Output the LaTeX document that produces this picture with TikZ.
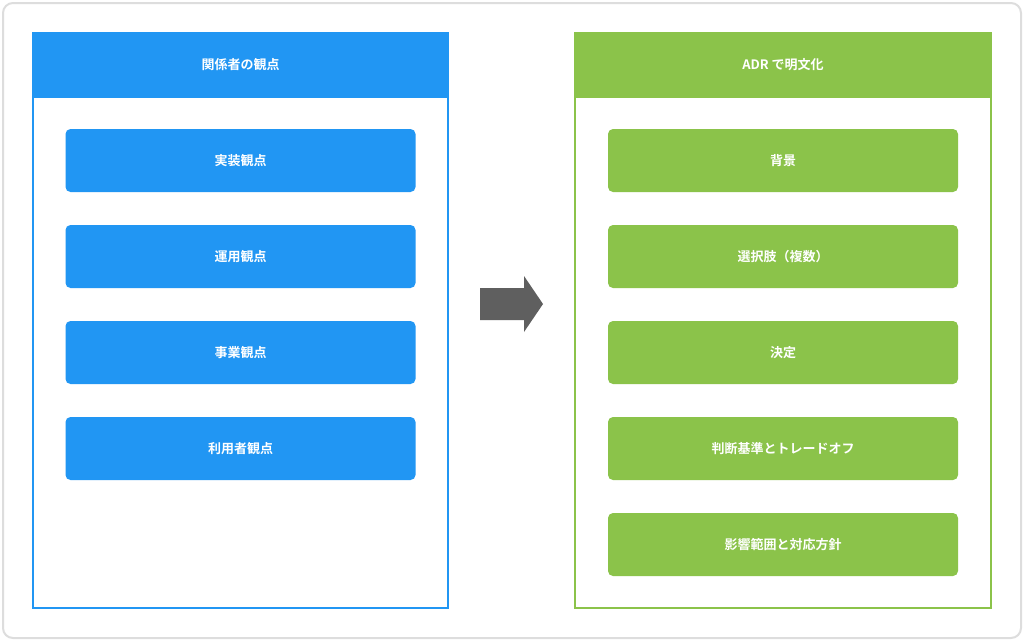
\documentclass[tikz,border=0pt]{standalone}
\usepackage{fontspec}
\newfontfamily\cjk{Noto Sans CJK JP}[BoldFont={Noto Sans CJK JP Bold}]
\usetikzlibrary{positioning}
\definecolor{stakeblue}{HTML}{2196F3}
\definecolor{adrgreen}{HTML}{8BC34A}
\definecolor{arrowgray}{HTML}{5F5F5F}
\definecolor{framegray}{HTML}{DDDDDD}
\tikzset{
  header/.style={fill=#1, draw=#1, line width=1.5pt, minimum height=64pt, text=white, font=\cjk\bfseries\fontsize{13}{15}\selectfont, inner sep=0pt},
  item/.style={fill=#1, rounded corners=5pt, minimum width=350pt, minimum height=63pt, text=white, font=\cjk\bfseries\fontsize{13}{15}\selectfont, inner sep=0pt},
  panel/.style={draw=#1, line width=1.5pt}
}
\begin{document}
\begin{tikzpicture}[x=1pt,y=-1pt]
\useasboundingbox (0,0) rectangle (1024,641);
\draw[framegray, line width=2pt, rounded corners=10pt, fill=white] (3,3) rectangle (1021,638);

%LEFT PANEL
\draw[panel=stakeblue] (33,33) rectangle (448,608);
\node[header=stakeblue, minimum width=415pt] (leftHead) at (240.5,65) {関係者の観点};
\node[item=stakeblue] (impl) at (240.5,160.5) {実装観点};
\node[item=stakeblue] (ops) at (240.5,256.5) {運用観点};
\node[item=stakeblue] (biz) at (240.5,352.5) {事業観点};
\node[item=stakeblue] (user) at (240.5,448.5) {利用者観点};

%RIGHT PANEL
\draw[panel=adrgreen] (575,33) rectangle (991,608);
\node[header=adrgreen, minimum width=416pt] (rightHead) at (783,65) {ADR で明文化};
\node[item=adrgreen] (bg) at (783,160.5) {背景};
\node[item=adrgreen] (opts) at (783,256.5) {選択肢（複数）};
\node[item=adrgreen] (dec) at (783,352.5) {決定};
\node[item=adrgreen] (crit) at (783,448.5) {判断基準とトレードオフ};
\node[item=adrgreen] (scope) at (783,544.5) {影響範囲と対応方針};

%ARROW
\fill[arrowgray] (480,288) -- (524,288) -- (524,276) -- (543,304) -- (524,332) -- (524,320) -- (480,320) -- cycle;
\end{tikzpicture}
\end{document}
